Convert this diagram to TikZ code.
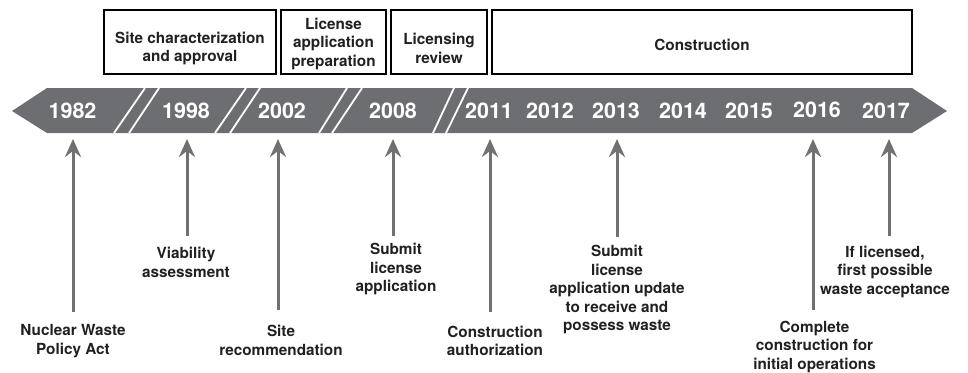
\documentclass[tikz,border=0pt]{standalone}
\usepackage{fontspec}
\setmainfont{TeX Gyre Heros}
\usetikzlibrary{arrows.meta}
\definecolor{bargray}{HTML}{6D6E71}
\definecolor{arrgray}{HTML}{707173}
\definecolor{txt}{HTML}{231F20}
\tikzset{
  phase/.style={draw=black, line width=1.1pt, fill=white},
  phasetext/.style={text=txt, align=center, font=\bfseries\fontsize{15.3}{18.5}\selectfont},
  year/.style={text=white, font=\bfseries\fontsize{21.5}{24}\selectfont},
  lbl/.style={text=txt, align=center, font=\bfseries\fontsize{15.3}{18.5}\selectfont},
  brk/.style={draw=white, line width=1.8pt},
  evarrow/.style={draw=arrgray, line width=3pt, -{Stealth[length=18pt,width=16pt,inset=6pt]}},
}
\begin{document}
\begin{tikzpicture}[x=1pt,y=-1pt]
\useasboundingbox (0,0) rectangle (968,372);
% timeline bar
\fill[bargray] (12,111) -- (47,88) -- (912,88) -- (947,111) -- (912,133) -- (47,133) -- cycle;
% break marks
\draw[brk] (114,133) -- (145,88);  \draw[brk] (129,133) -- (159,88);
\draw[brk] (215,133) -- (246,88);  \draw[brk] (230,133) -- (260,88);
\draw[brk] (319,133) -- (347,88);  \draw[brk] (332,133) -- (362,88);
\draw[brk] (433,133) -- (454,88);  \draw[brk] (446,133) -- (468,88);
% phase boxes
\draw[phase] (104,10) rectangle (276,74);
\node[phasetext] (p1) at (190,48.5) {Site characterization\\and approval};
\draw[phase] (281,10) rectangle (386,74);
\node[phasetext] (p2) at (333.5,43.5) {License\\application\\preparation};
\draw[phase] (391,10) rectangle (487,74);
\node[phasetext] (p3) at (439,48.5) {Licensing\\review};
\draw[phase] (492,10) rectangle (912,74);
\node[phasetext] (p4) at (702,44.5) {Construction};
% years
\node[year] (y1982) at (72.5,111) {1982};
\node[year] (y1998) at (186,111) {1998};
\node[year] (y2002) at (282,111) {2002};
\node[year] (y2008) at (393,111) {2008};
\node[year] (y2011) at (489,111) {2011};
\node[year] (y2012) at (550,111) {2012};
\node[year] (y2013) at (616,111) {2013};
\node[year] (y2014) at (683,111) {2014};
\node[year] (y2015) at (749,111) {2015};
\node[year] (y2016) at (817,109.5) {2016};
\node[year] (y2017) at (886,111) {2017};
% event labels
\node[lbl] (e1) at (73,341) {Nuclear Waste\\Policy Act};
\node[lbl] (e2) at (186,262.5) {Viability\\assessment};
\node[lbl] (e3) at (281,340.5) {Site\\recommendation};
\node[lbl] (e4) at (396,269) {Submit\\license\\application};
\node[lbl] (e5) at (495,341) {Construction\\authorization};
\node[lbl] (e6) at (617,289.5) {Submit\\license\\application update\\to receive and\\possess waste};
\node[lbl] (e7) at (814.5,346.5) {Complete\\construction for\\initial operations};
\node[lbl] (e8) at (885,271.5) {If licensed,\\first possible\\waste acceptance};
% arrow ends
\coordinate (b1) at (73,312);   \coordinate (t1) at (73,139);
\coordinate (b2) at (187,236);  \coordinate (t2) at (187,139);
\coordinate (b3) at (278,310);  \coordinate (t3) at (278,139);
\coordinate (b4) at (393,236);  \coordinate (t4) at (393,139);
\coordinate (b5) at (490,312);  \coordinate (t5) at (490,139);
\coordinate (b6) at (617,237);  \coordinate (t6) at (617,139);
\coordinate (b7) at (813,310);  \coordinate (t7) at (813,139);
\coordinate (b8) at (889,236);  \coordinate (t8) at (889,139);
\foreach \i in {1,...,8} { \draw[evarrow] (b\i) -- (t\i); }
\end{tikzpicture}
\end{document}
